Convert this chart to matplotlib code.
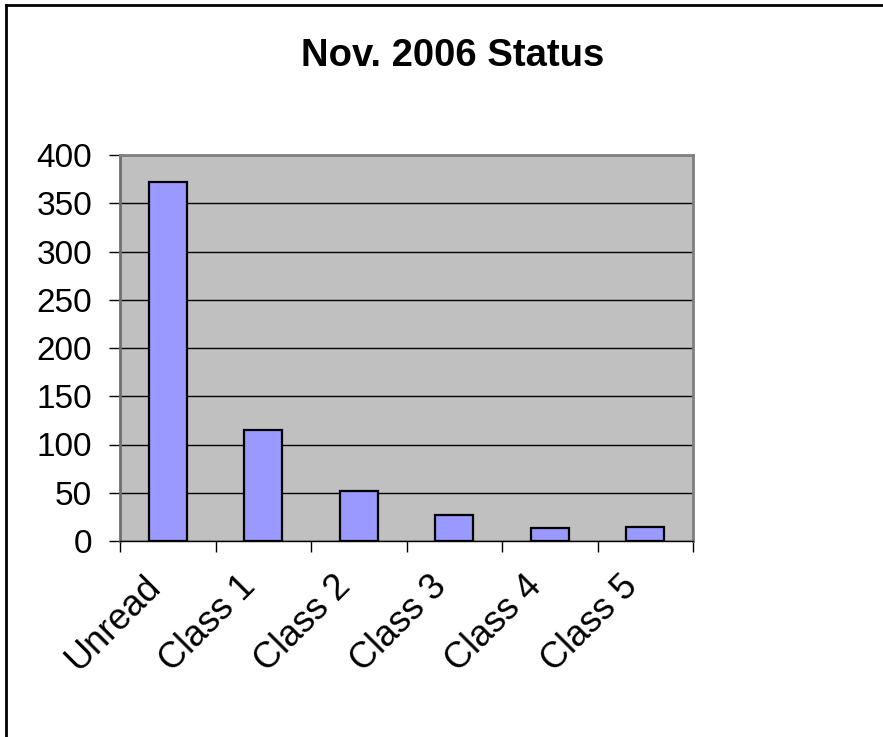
import numpy as np
import matplotlib
matplotlib.use('Agg')
import matplotlib.pyplot as plt
from matplotlib.lines import Line2D
from matplotlib.transforms import ScaledTranslation

categories = ['Unread', 'Class 1', 'Class 2', 'Class 3', 'Class 4', 'Class 5']
values = [372, 115, 52, 27, 13, 15]
yticks = [0, 50, 100, 150, 200, 250, 300, 350, 400]
title = 'Nov. 2006 Status'

plt.rcParams['font.family'] = ['Liberation Sans', 'DejaVu Sans']

W, H = 883, 737
fig = plt.figure(figsize=(W / 100, H / 100), dpi=100)
fig.patch.set_facecolor('white')

L, R, T, B = 120, 693, 155, 541
ax = fig.add_axes([L / W, 1 - B / H, (R - L) / W, (B - T) / H])
ax.set_facecolor('#C0C0C0')

x = np.arange(len(categories))
ax.bar(x, values, width=0.4, color='#9999FF', edgecolor='black', linewidth=1.6, zorder=3)

ax.set_xlim(-0.5, len(categories) - 0.5)
ax.set_ylim(0, 400)
ax.set_yticks(yticks)
ax.set_yticklabels([str(v) for v in yticks], fontsize=24)
ax.yaxis.grid(True, color='black', linewidth=1)
ax.set_axisbelow(True)

ax.set_xticks(np.arange(-0.5, len(categories), 1))
ax.set_xticklabels([])
ax.set_xticks(x, minor=True)
ax.set_xticklabels(categories, minor=True, rotation=45, ha='right', va='center',
                   rotation_mode='anchor', fontsize=26)
ax.tick_params(axis='x', which='major', length=8, width=1, color='black', direction='out')
ax.tick_params(axis='x', which='minor', length=0, pad=29)
ax.tick_params(axis='y', length=8, width=1, color='black', pad=12)
for lab in ax.get_xticklabels(minor=True):
    lab.set_transform(lab.get_transform() + ScaledTranslation(-0.13, 0, fig.dpi_scale_trans))

for s in ['top', 'right']:
    ax.spines[s].set_color('#808080')
    ax.spines[s].set_linewidth(2)
ax.spines['left'].set_color('#707070')
ax.spines['left'].set_linewidth(2)
ax.spines['bottom'].set_color('black')
ax.spines['bottom'].set_linewidth(1)

fig.text(453 / W, 1 - 56 / H, title, ha='center', va='center', fontsize=27.5, fontweight='bold')

# outer chart frame (left and top edges visible)
fig.add_artist(Line2D([6 / W, 6 / W], [0, 1 - 5 / H], transform=fig.transFigure, color='black', linewidth=2))
fig.add_artist(Line2D([6 / W, 1], [1 - 5 / H, 1 - 5 / H], transform=fig.transFigure, color='black', linewidth=2))

fig.savefig('out.png', dpi=100)
